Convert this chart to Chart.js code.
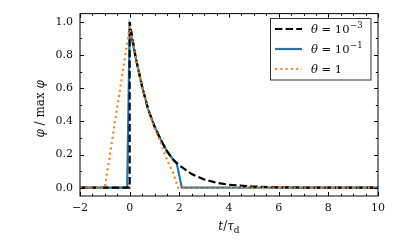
<!DOCTYPE html>
<html><head><meta charset="utf-8">
<script src="https://cdn.jsdelivr.net/npm/chart.js@4.4.0/dist/chart.umd.min.js"></script>
<style>html,body{margin:0;padding:0;background:#fff}#wrap{width:398px;height:246px}</style>
</head><body><div id="wrap"><canvas id="c" width="398" height="246"></canvas></div>
<script>
// ---- data ----
const blackT = [-2, 0, 0, 0.25, 0.5, 0.75, 1.0, 1.25, 1.5, 1.75, 2.0, 2.5, 3.0, 3.5, 4.0, 5.0, 6.0, 7.0, 8.0, 10.0];
const blackY = [0, 0, 1.0, 0.78, 0.61, 0.47, 0.37, 0.29, 0.22, 0.17, 0.135, 0.082, 0.05, 0.03, 0.018, 0.007, 0.0025, 0.001, 0, 0];
const blueT  = [-2, -0.1, 0, 0.25, 0.5, 0.75, 1.0, 1.25, 1.5, 1.75, 1.9, 2.1, 10.0];
const blueY  = [0, 0, 0.96, 0.78, 0.61, 0.47, 0.37, 0.29, 0.22, 0.17, 0.145, 0, 0];
const orangeT = [-2, -1, 0, 0.25, 0.5, 0.75, 1.0, 1.25, 1.5, 1.75, 1.95, 10.0];
const orangeY = [0, 0, 0.97, 0.78, 0.61, 0.47, 0.36, 0.27, 0.17, 0.09, 0, 0];
const xTicks = [-2, 0, 2, 4, 6, 8, 10];
const yTicks = [0.0, 0.2, 0.4, 0.6, 0.8, 1.0];
const seriesNames = [["10", "−3"], ["10", "−1"], ["1", ""]];

const SERIF = '"DejaVu Serif", serif';
const pts = (t, y) => t.map((v, i) => ({x: v, y: y[i]}));

const frameAndTicks = {
  id: 'frameAndTicks',
  afterDraw(chart) {
    const {ctx, chartArea: a, scales: {x, y}} = chart;
    ctx.save();
    ctx.strokeStyle = '#000';
    ctx.lineWidth = 1;
    ctx.strokeRect(a.left, a.top, a.right - a.left, a.bottom - a.top);
    const tick = (x1, y1, x2, y2) => { ctx.beginPath(); ctx.moveTo(x1, y1); ctx.lineTo(x2, y2); ctx.stroke(); };
    for (let v = -2; v <= 10.001; v += 0.5) {
      const px = Math.round(x.getPixelForValue(v)) + 0.5;
      const major = Math.abs(v / 2 - Math.round(v / 2)) < 1e-6;
      const L = major ? 4 : 2.2;
      tick(px, a.bottom, px, a.bottom - L);
      tick(px, a.top, px, a.top + L);
    }
    for (let v = 0; v <= 1.0001; v += 0.1) {
      const py = Math.round(y.getPixelForValue(v)) + 0.5;
      const k = Math.round(v * 10);
      const L = (k % 2 === 0) ? 4 : 2.2;
      tick(a.left, py, a.left + L, py);
      tick(a.right, py, a.right - L, py);
    }
    // axis titles
    ctx.fillStyle = '#111';
    ctx.textBaseline = 'alphabetic';
    const parts = [
      {t: 't', f: 'italic 12px ' + SERIF, dy: 0},
      {t: '/', f: '12px ' + SERIF, dy: 0},
      {t: 'τ', f: 'italic 12px ' + SERIF, dy: 0},
      {t: 'd', f: '9px ' + SERIF, dy: 2.5}
    ];
    let w = 0;
    parts.forEach(p => { ctx.font = p.f; p.w = ctx.measureText(p.t).width; w += p.w; });
    let cx = (a.left + a.right) / 2 - w / 2;
    parts.forEach(p => { ctx.font = p.f; ctx.fillText(p.t, cx, 230 + p.dy); cx += p.w; });
    ctx.save();
    ctx.translate(44, (a.top + a.bottom) / 2 + 4);
    ctx.rotate(-Math.PI / 2);
    const yp = [
      {t: 'φ', f: 'italic 12px ' + SERIF},
      {t: ' / max ', f: '12px ' + SERIF},
      {t: 'φ', f: 'italic 12px ' + SERIF}
    ];
    w = 0;
    yp.forEach(p => { ctx.font = p.f; p.w = ctx.measureText(p.t).width; w += p.w; });
    cx = -w / 2;
    yp.forEach(p => { ctx.font = p.f; ctx.fillText(p.t, cx, 0); cx += p.w; });
    ctx.restore();

    // legend
    const bx = 270.5, by = 18.5, bw = 100.5, bh = 61.5;
    ctx.fillStyle = 'rgba(255,255,255,0.85)';
    ctx.fillRect(bx, by, bw, bh);
    ctx.strokeStyle = '#333';
    ctx.lineWidth = 1;
    ctx.strokeRect(bx, by, bw, bh);
    const rows = [29, 49, 69];
    chart.data.datasets.forEach((ds, i) => {
      const ry = rows[i];
      ctx.save();
      ctx.strokeStyle = ds.borderColor;
      ctx.lineWidth = ds.borderWidth;
      ctx.setLineDash(ds.borderDash || []);
      ctx.lineCap = 'butt';
      ctx.beginPath(); ctx.moveTo(275, ry); ctx.lineTo(302, ry); ctx.stroke();
      ctx.restore();
      ctx.fillStyle = '#111';
      let lx = 311;
      const base = ry + 4;
      ctx.font = 'italic 11.5px ' + SERIF; ctx.fillText('θ', lx, base); lx += ctx.measureText('θ').width;
      ctx.font = '11.5px ' + SERIF; const s = ' = ' + seriesNames[i][0];
      ctx.fillText(s, lx, base); lx += ctx.measureText(s).width;
      if (seriesNames[i][1]) { ctx.font = '8.5px ' + SERIF; ctx.fillText(seriesNames[i][1], lx + 0.5, base - 5); }
    });
    ctx.restore();
  }
};

new Chart(document.getElementById('c'), {
  type: 'line',
  data: {
    datasets: [
      {label: 'θ = 10⁻³', data: pts(blackT, blackY), borderColor: '#000000', borderWidth: 2.2, borderDash: [7.4, 3.2], order: 2},
      {label: 'θ = 10⁻¹', data: pts(blueT, blueY), borderColor: '#1f77b4', borderWidth: 2.2, order: 3},
      {label: 'θ = 1', data: pts(orangeT, orangeY), borderColor: '#ff7f0e', borderWidth: 2.2, borderDash: [2, 3.3], order: 1}
    ]
  },
  options: {
    responsive: false, animation: false,
    layout: {padding: {top: 12, right: 20, left: 0, bottom: 0}},
    elements: {point: {radius: 0}, line: {tension: 0, fill: false}},
    plugins: {legend: {display: false}, tooltip: {enabled: false}},
    scales: {
      x: {
        type: 'linear', min: -2, max: 10,
        afterBuildTicks: s => { s.ticks = xTicks.map(v => ({value: v})); },
        afterFit: s => { s.height = 50; },
        grid: {display: false, drawTicks: false},
        border: {display: false},
        ticks: {padding: 6, color: '#111', font: {family: SERIF, size: 11}, maxRotation: 0,
          callback: v => String(v).replace('-', '−')}
      },
      y: {
        type: 'linear', min: -0.05, max: 1.05,
        afterBuildTicks: s => { s.ticks = yTicks.map(v => ({value: v})); },
        afterFit: s => { s.width = 80; },
        grid: {display: false, drawTicks: false},
        border: {display: false},
        ticks: {padding: 7, color: '#111', font: {family: SERIF, size: 11},
          callback: v => Number(v).toFixed(1)}
      }
    }
  },
  plugins: [frameAndTicks]
});
</script></body></html>
